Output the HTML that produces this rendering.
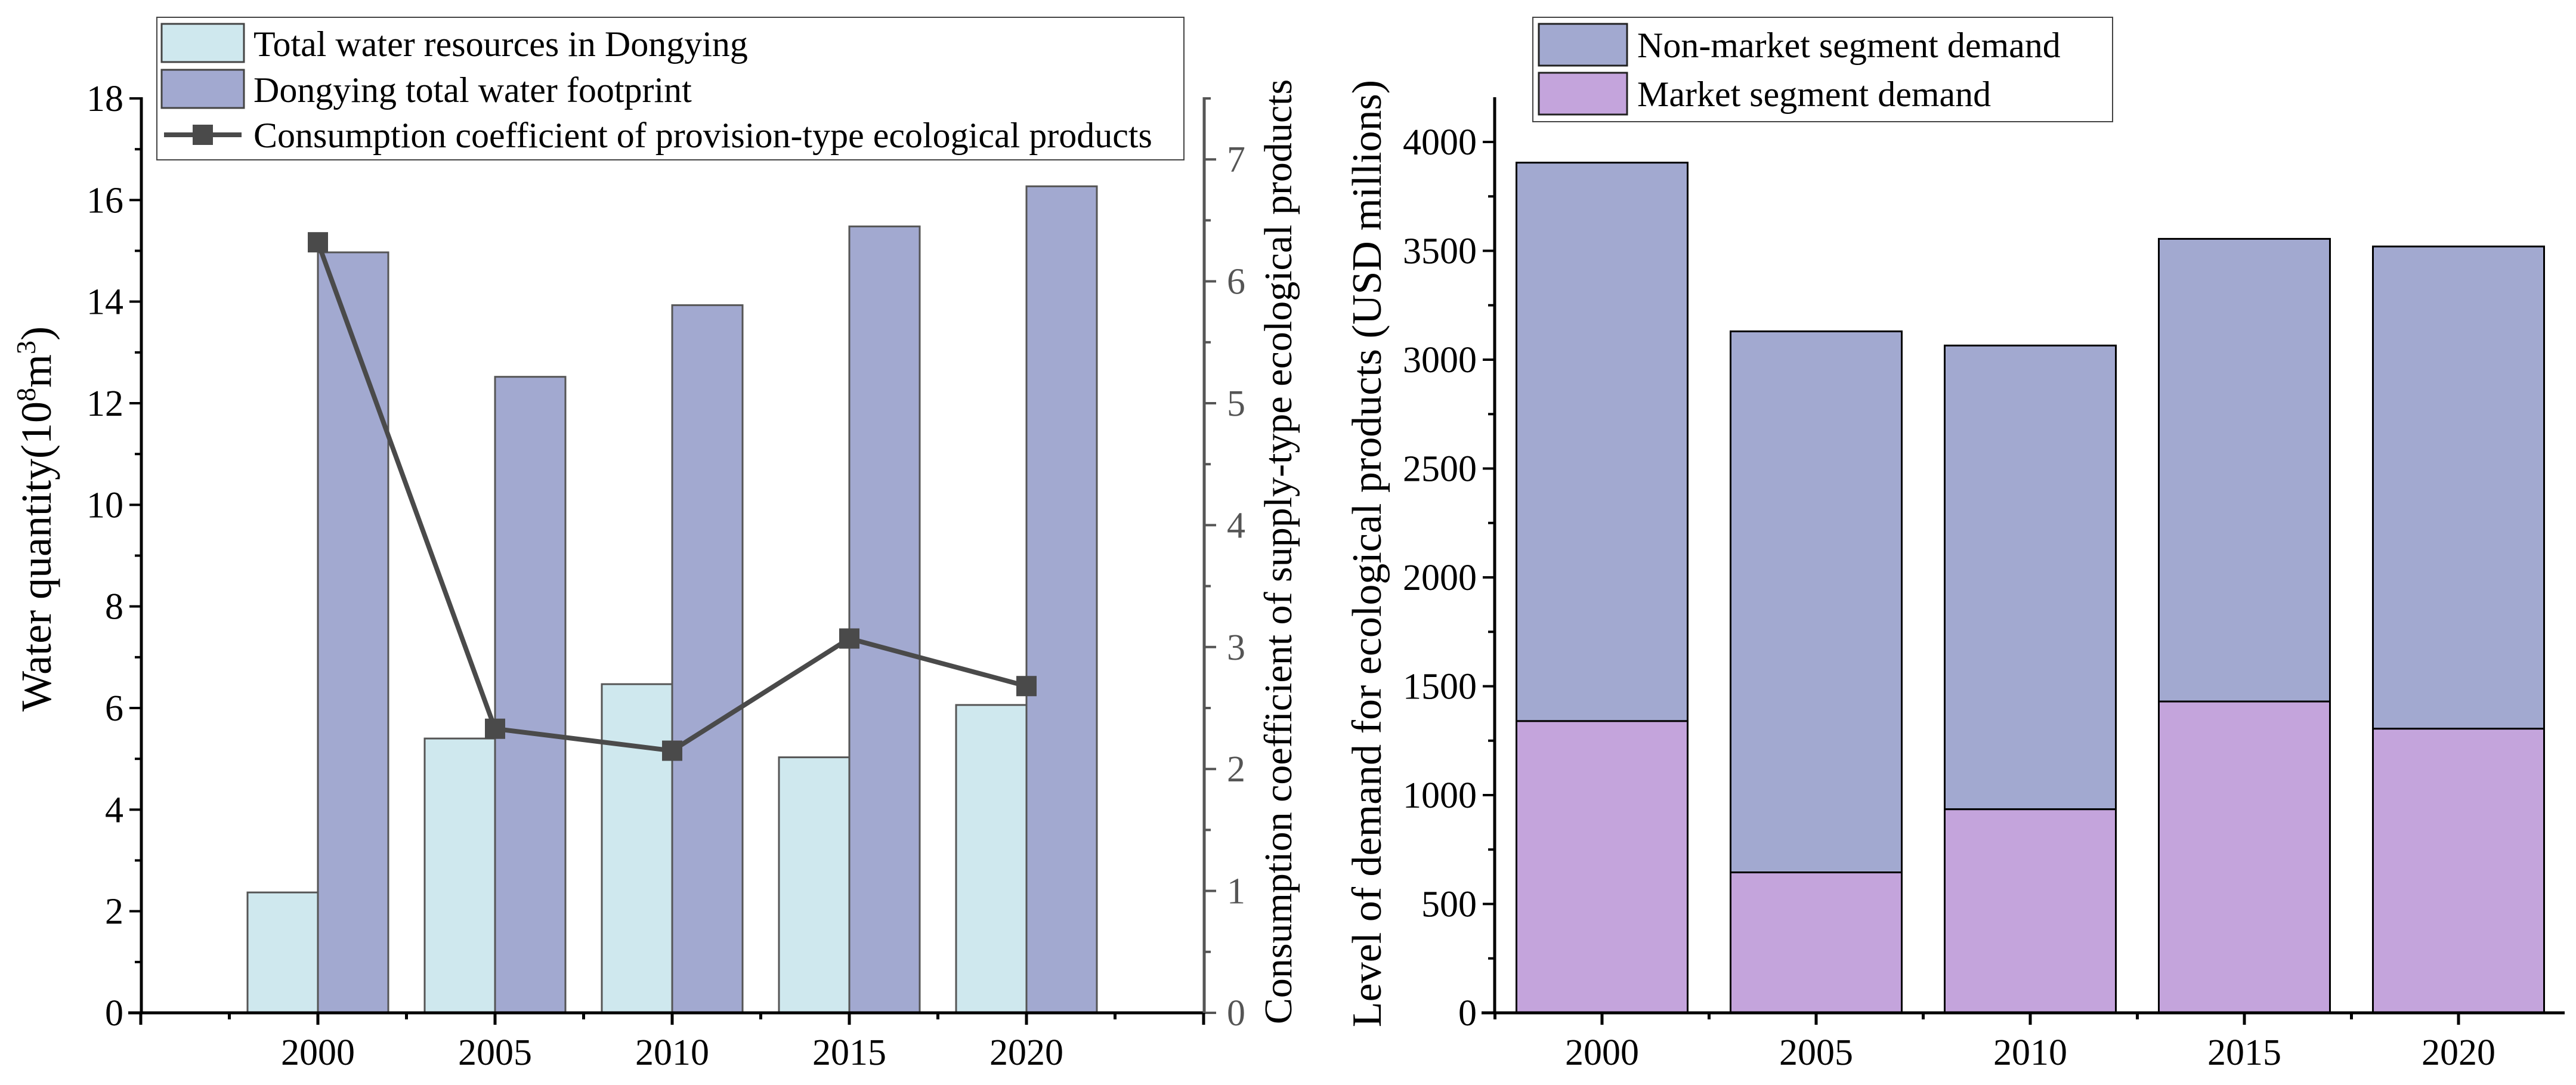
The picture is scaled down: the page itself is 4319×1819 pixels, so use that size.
<!DOCTYPE html>
<html><head><meta charset="utf-8"><style>
html,body{margin:0;padding:0;background:#fff}
svg{display:block}
svg text{font-family:"Liberation Serif","Times New Roman",Times,"DejaVu Serif",serif}
</style></head><body>
<svg id="c" width="4319" height="1819" viewBox="0 0 4319 1819" xmlns="http://www.w3.org/2000/svg"></svg>
<script>
const years = ["2000","2005","2010","2015","2020"];
const waterResources = [2.37, 5.40, 6.47, 5.03, 6.06];
const waterFootprint = [14.97, 12.52, 13.93, 15.48, 16.27];
const consumptionCoef = [6.32, 2.33, 2.15, 3.07, 2.68];
const leftTicks = [0,2,4,6,8,10,12,14,16,18];
const rightTicks = [0,1,2,3,4,5,6,7];
const marketDemand = [1340, 645, 935, 1430, 1305];
const totalDemand = [3905, 3130, 3065, 3555, 3520];
const demandTicks = [0,500,1000,1500,2000,2500,3000,3500,4000];

const NS="http://www.w3.org/2000/svg";
const svg=document.getElementById('c');
function mk(tag,attrs,parent,txt){const e=document.createElementNS(NS,tag);for(const k in attrs)e.setAttribute(k,attrs[k]);if(tag==='text')e.style.fontFamily='"Liberation Serif","Times New Roman",Times,serif';if(txt!==undefined)e.textContent=txt;(parent||svg).appendChild(e);return e;}

// ---------- Left chart ----------
const L={x0:237,x1:2019,y0:1698,yTop:165};
const yL=v=>L.y0-(v/18)*(L.y0-L.yTop);
const yR=v=>L.y0-(v/7.5)*(L.y0-L.yTop);
const xL=i=>533+i*297;
const bw=118;
const gL=mk('g',{});


years.forEach((y,i)=>{
  const r1=mk('rect',{x:xL(i)-bw,y:yL(waterResources[i]),width:bw,height:L.y0-yL(waterResources[i]),fill:'#cfe8ee',stroke:'#555','stroke-width':3},gL);
  
  
  const r2=mk('rect',{x:xL(i),y:yL(waterFootprint[i]),width:bw,height:L.y0-yL(waterFootprint[i]),fill:'#a2a9d0',stroke:'#555','stroke-width':3},gL);
  
  
});
const pts=consumptionCoef.map((v,i)=>xL(i)+','+yR(v)).join(' ');
const pl=mk('polyline',{points:pts,fill:'none',stroke:'#4a4a4a','stroke-width':8},gL);


consumptionCoef.forEach((v,i)=>{
  const m=mk('rect',{x:xL(i)-17,y:yR(v)-17,width:34,height:34,fill:'#4a4a4a'},gL);
  
  
});
mk('line',{x1:L.x0,y1:L.yTop-2,x2:L.x0,y2:L.y0+2,stroke:'#000','stroke-width':5},gL);
mk('line',{x1:L.x0-22,y1:L.y0,x2:L.x1,y2:L.y0,stroke:'#000','stroke-width':5},gL);
mk('line',{x1:L.x1,y1:L.yTop-2,x2:L.x1,y2:L.y0+2,stroke:'#555','stroke-width':5},gL);
for(let v=0;v<=18;v++){mk('line',{x1:L.x0,y1:yL(v),x2:L.x0-(v%2?11:20),y2:yL(v),stroke:'#000','stroke-width':4},gL);}
leftTicks.forEach(v=>{const t=mk('text',{x:L.x0-30,y:yL(v)+21,'font-size':62,'text-anchor':'end'},gL,String(v));});
for(let k=0;k<=15;k++){const v=k/2;mk('line',{x1:L.x1,y1:yR(v),x2:L.x1+(k%2?11:20),y2:yR(v),stroke:'#555','stroke-width':4},gL);}
rightTicks.forEach(v=>{const t=mk('text',{x:L.x1+38,y:yR(v)+21,'font-size':62,fill:'#555'},gL,String(v));});
for(let k=-2;k<=10;k++){const x=xL(0)+k*148.5;if(x<L.x0-1||x>L.x1+1)continue;mk('line',{x1:x,y1:L.y0,x2:x,y2:L.y0+(k%2?11:20),stroke:'#000','stroke-width':5},gL);}
years.forEach((y,i)=>{const t=mk('text',{x:xL(i),y:1785,'font-size':62,'text-anchor':'middle'},gL,y);});
const yt=mk('text',{transform:'translate(85,870) rotate(-90)','font-size':72,'text-anchor':'middle'},gL);


yt.innerHTML='Water quantity(10<tspan dy="-26" font-size="46">8</tspan><tspan dy="26">m</tspan><tspan dy="-26" font-size="46">3</tspan><tspan dy="26">)</tspan>';
const yt2=mk('text',{transform:'translate(2165,925) rotate(-90)','font-size':66,'text-anchor':'middle'},gL,'Consumption coefficient of supply-type ecological products');


const lg=mk('g',{},gL);


mk('rect',{x:263,y:29,width:1722,height:239,fill:'#fff',stroke:'#444','stroke-width':2},lg);
mk('rect',{x:271,y:40,width:138,height:64,fill:'#cfe8ee',stroke:'#444','stroke-width':3},lg);
mk('rect',{x:271,y:117,width:138,height:64,fill:'#a2a9d0',stroke:'#444','stroke-width':3},lg);
mk('line',{x1:275,y1:226,x2:405,y2:226,stroke:'#4a4a4a','stroke-width':8},lg);
mk('rect',{x:323,y:209,width:34,height:34,fill:'#4a4a4a'},lg);
mk('text',{x:425,y:94,'font-size':60},lg,'Total water resources in Dongying');
mk('text',{x:425,y:171,'font-size':60},lg,'Dongying total water footprint');
mk('text',{x:425,y:247,'font-size':60},lg,'Consumption coefficient of provision-type ecological products');

// ---------- Right chart ----------
const R={x0:2506,x1:4300,y0:1698,yTop:165};
const yD=v=>R.y0-(v/4200)*(R.y0-R.yTop);
const xD=i=>2686+i*359;
const bw2=287;
const gR=mk('g',{});


years.forEach((y,i)=>{
  const a=mk('rect',{x:xD(i)-bw2/2,y:yD(totalDemand[i]),width:bw2,height:yD(marketDemand[i])-yD(totalDemand[i]),fill:'#a2a9d0',stroke:'#000','stroke-width':3},gR);
  
  
  const b=mk('rect',{x:xD(i)-bw2/2,y:yD(marketDemand[i]),width:bw2,height:R.y0-yD(marketDemand[i]),fill:'#c4a4dc',stroke:'#000','stroke-width':3},gR);
  
  
});
mk('line',{x1:R.x0,y1:R.yTop-2,x2:R.x0,y2:R.y0+2,stroke:'#000','stroke-width':5},gR);
mk('line',{x1:R.x0-22,y1:R.y0,x2:R.x1,y2:R.y0,stroke:'#000','stroke-width':5},gR);
for(let v=0;v<=4000;v+=250){mk('line',{x1:R.x0,y1:yD(v),x2:R.x0-(v%500?11:20),y2:yD(v),stroke:'#000','stroke-width':4},gR);}
demandTicks.forEach(v=>{const t=mk('text',{x:R.x0-30,y:yD(v)+21,'font-size':62,'text-anchor':'end'},gR,String(v));});
for(let k=-2;k<=10;k++){const x=xD(0)+k*179.5;if(x<R.x0-1||x>R.x1+1)continue;mk('line',{x1:x,y1:R.y0,x2:x,y2:R.y0+(k%2?11:20),stroke:'#000','stroke-width':5},gR);}
years.forEach((y,i)=>{const t=mk('text',{x:xD(i),y:1785,'font-size':62,'text-anchor':'middle'},gR,y);});
const yt3=mk('text',{transform:'translate(2315,928) rotate(-90)','font-size':70,'text-anchor':'middle'},gR,'Level of demand for ecological products (USD millions)');


const lg2=mk('g',{},gR);


mk('rect',{x:2570,y:29,width:972,height:175,fill:'#fff',stroke:'#444','stroke-width':2},lg2);
mk('rect',{x:2580,y:40,width:148,height:70,fill:'#a2a9d0',stroke:'#222','stroke-width':3},lg2);
mk('rect',{x:2580,y:122,width:148,height:70,fill:'#c4a4dc',stroke:'#222','stroke-width':3},lg2);
mk('text',{x:2745,y:96,'font-size':60},lg2,'Non-market segment demand');
mk('text',{x:2745,y:178,'font-size':60},lg2,'Market segment demand');
</script>
</body></html>
